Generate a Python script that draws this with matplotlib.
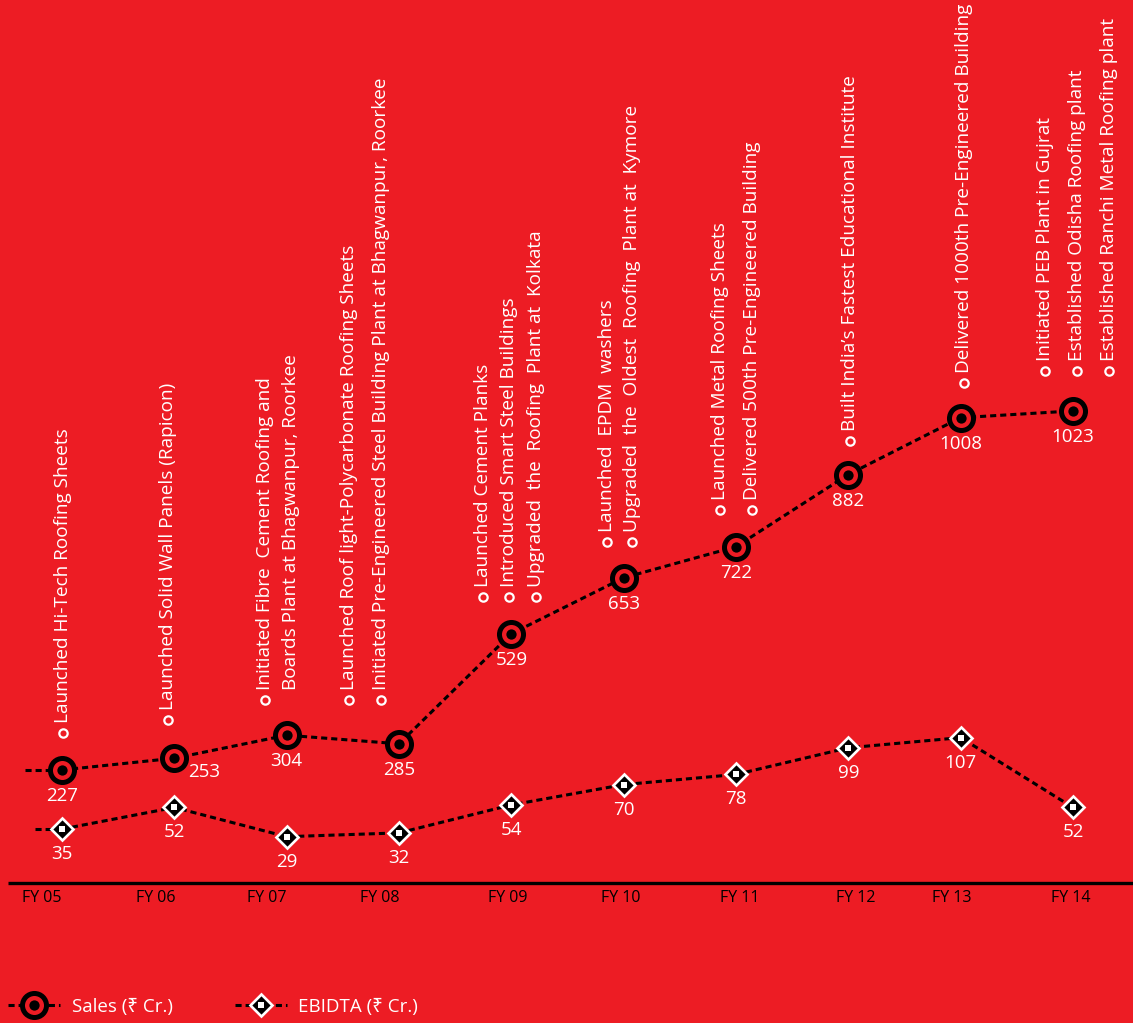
import matplotlib
matplotlib.use("Agg")
import matplotlib.pyplot as plt
from matplotlib import transforms
from matplotlib.lines import Line2D
from matplotlib.legend_handler import HandlerTuple

# ---------------- data ----------------
years = ["FY 05", "FY 06", "FY 07", "FY 08", "FY 09",
         "FY 10", "FY 11", "FY 12", "FY 13", "FY 14"]
sales = [227, 253, 304, 285, 529, 653, 722, 882, 1008, 1023]
ebidta = [35, 52, 29, 32, 54, 70, 78, 99, 107, 52]

milestones = [
    ["Launched Hi-Tech Roofing Sheets"],
    ["Launched Solid Wall Panels (Rapicon)"],
    ["Initiated Fibre  Cement Roofing and", "Boards Plant at Bhagwanpur, Roorkee"],
    ["Launched Roof light-Polycarbonate Roofing Sheets",
     "Initiated Pre-Engineered Steel Building Plant at Bhagwanpur, Roorkee"],
    ["Launched Cement Planks", "Introduced Smart Steel Buildings",
     "Upgraded  the  Roofing  Plant at  Kolkata"],
    ["Launched  EPDM  washers",
     "Upgraded  the  Oldest  Roofing  Plant at  Kymore"],
    ["Launched Metal Roofing Sheets", "Delivered 500th Pre-Engineered Building"],
    ["Built India\u2019s Fastest Educational Institute"],
    ["Delivered 1000th Pre-Engineered Building"],
    ["Initiated PEB Plant in Gujrat", "Established Odisha Roofing plant",
     "Established Ranchi Metal Roofing plant"],
]
bullet_flags = [[1], [1], [1, 0], [1, 1], [1, 1, 1], [1, 1], [1, 1], [1], [1], [1, 1, 1]]

legend_labels = ["Sales (\u20b9 Cr.)", "EBIDTA (\u20b9 Cr.)"]

# ---------------- layout / style ----------------
W, H = 1133, 1023
RED = "#ED1C24"
FONT = ["Open Sans", "Noto Sans", "DejaVu Sans"]
plt.rcParams["font.family"] = FONT

# milestone column layout (pixel offsets relative to category position)
col_dx = [[1], [-6], [-22, 4], [-50, -18], [-28, -2, 25], [-17, 8],
          [-16, 16], [2], [3], [-28, 4, 36]]
bullet_y = [733, 720, 700, 700, 597, 542, 510, 441, 383, 371]  # px from top
label_dx = [-20, -19, -20, -19, -4, -3, 4, 7, -9, -2]
TXT = 13.7

fig = plt.figure(figsize=(W / 100, H / 100), dpi=100, facecolor=RED)
ax = fig.add_axes([0, 0, 1, 1])
ax.axis("off")
ax.set_xlim(-0.552, 9.534)
ax.set_ylim(-334, 1934)
ax2 = ax.twinx()
ax2.axis("off")
ax2.set_ylim(-117.7, 687.8)

xs = list(range(len(years)))
LW = 2.2
DASH = (2.0, 1.3)

# sales line
ax.plot(xs, sales, color="k", lw=LW, dashes=DASH, zorder=2)
ax.plot([-0.33, 0], [sales[0], sales[0]], color="k", lw=LW, dashes=DASH, zorder=2)
ax.plot(xs, sales, ls="none", marker="o", ms=17.3, mfc=RED, mec="k", mew=3.6, zorder=3)
ax.plot(xs, sales, ls="none", marker="o", ms=7.4, mfc="k", mec="k", mew=0, zorder=4)

# ebidta line
ax2.plot(xs, ebidta, color="k", lw=LW, dashes=DASH, zorder=2)
ax2.plot([-0.24, 0], [ebidta[0], ebidta[0]], color="k", lw=LW, dashes=DASH, zorder=2)
ax2.plot(xs, ebidta, ls="none", marker="D", ms=10.9, mfc="k", mec="white", mew=1.9,
         zorder=3)
ax2.plot(xs, ebidta, ls="none", marker="s", ms=3.8, mfc="white", mec="white", mew=0,
         zorder=4)

# value labels
for i, v in enumerate(sales):
    off = (30, -14) if i == 1 else (0, -26)
    ax.annotate(str(v), xy=(i, v), xytext=off, textcoords="offset pixels",
                ha="center", va="center", color="white", fontsize=13.5, zorder=5)
for i, v in enumerate(ebidta):
    ax2.annotate(str(v), xy=(i, v), xytext=(0, -25), textcoords="offset pixels",
                 ha="center", va="center", color="white", fontsize=13.5, zorder=5)

# baseline
ax.plot([8 / W, 1], [140 / H, 140 / H], transform=ax.transAxes, color="k", lw=2.4,
        clip_on=False, solid_capstyle="butt")

# FY labels
for i, lab in enumerate(years):
    ax.annotate(lab, xy=(i, 125), xycoords=("data", "figure pixels"),
                xytext=(label_dx[i], 0), textcoords="offset pixels",
                ha="center", va="center", color="black", fontsize=11.5)

# milestones
for i, lines in enumerate(milestones):
    by = H - bullet_y[i]
    for j, line in enumerate(lines):
        dx = col_dx[i][j]
        if bullet_flags[i][j]:
            trans = transforms.blended_transform_factory(ax.transData,
                                                         transforms.IdentityTransform())
            trans = trans + transforms.ScaledTranslation(dx / 100, 0, fig.dpi_scale_trans)
            ax.plot([i], [by], transform=trans, marker="o", ms=6, mfc="none",
                    mec="white", mew=1.6, ls="none", clip_on=False)
        ax.annotate(line, xy=(i, by + 10), xycoords=("data", "figure pixels"),
                    xytext=(dx, 0), textcoords="offset pixels",
                    rotation=90, ha="center", va="bottom", color="white",
                    fontsize=TXT)

# legend
h_sales = (Line2D([], [], color="k", lw=LW, dashes=DASH, marker="o", ms=17.3,
                  mfc=RED, mec="k", mew=3.6),
           Line2D([], [], ls="none", marker="o", ms=7.4, mfc="k", mec="k", mew=0))
h_ebidta = (Line2D([], [], color="k", lw=LW, dashes=DASH, marker="D", ms=10.9,
                   mfc="k", mec="white", mew=1.9),
            Line2D([], [], ls="none", marker="s", ms=3.8, mfc="white", mew=0))
leg = fig.legend([h_sales, h_ebidta], legend_labels,
                 handler_map={tuple: HandlerTuple(ndivide=1, pad=0)},
                 loc="center left", bbox_to_anchor=(8 / W, 16 / H), ncol=2,
                 frameon=False, fontsize=13.5, labelcolor="white", handlelength=2.8,
                 handletextpad=0.6, columnspacing=3.3, borderpad=0, borderaxespad=0,
                 numpoints=1)

fig.savefig("out.png", dpi=100, facecolor=RED)
